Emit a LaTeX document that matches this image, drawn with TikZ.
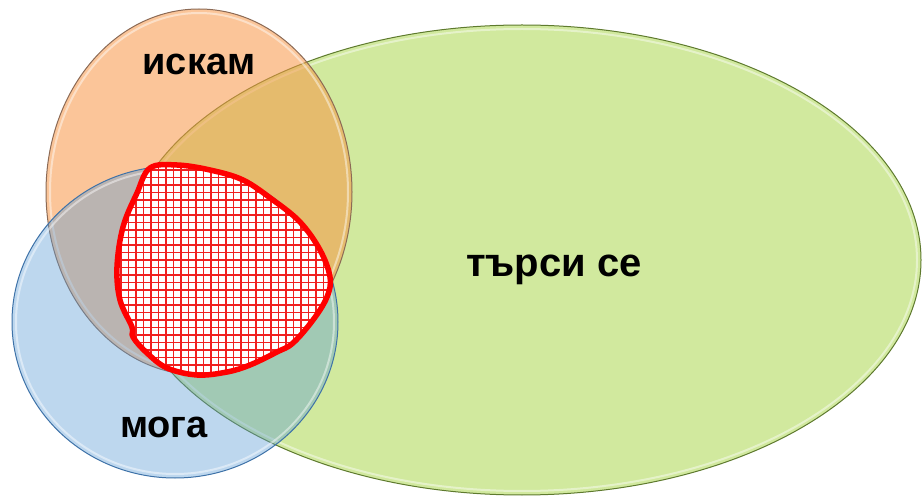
\documentclass[tikz,border=0pt]{standalone}
\usepackage{fontspec}
\setmainfont{Liberation Sans}
\usetikzlibrary{shapes.geometric}
\definecolor{greenfill}{HTML}{D1E99E}
\definecolor{greenline}{HTML}{5E7A2E}
\definecolor{orangebase}{HTML}{F79646}
\definecolor{orangeline}{HTML}{8C6A55}
\definecolor{bluebase}{HTML}{5B9BD5}
\definecolor{blueline}{HTML}{3E72A8}
\definecolor{gridred}{HTML}{F02020}
\begin{document}
\begin{tikzpicture}[x=1pt,y=-1pt,
  venn/.style={ellipse, inner sep=0pt, line width=1pt},
  gloss/.style={ellipse, inner sep=0pt, draw=white, draw opacity=0.45, line width=2pt, fill=none},
  lbl/.style={font=\fontsize{38}{40}\selectfont\bfseries, inner sep=0pt, anchor=base},
  blobline/.style={draw=red, line width=5.5pt, line join=round},
  hatch/.style={draw=gridred, line width=1.8pt}]
\useasboundingbox (0,0) rectangle (922,497);
% ellipses
\node[venn, draw=greenline, fill=greenfill, minimum width=798pt, minimum height=470pt] (tarsi) at (522,260) {};
\node[gloss, minimum width=790pt, minimum height=462pt] (tarsigl) at (522,260) {};
\node[venn, draw=orangeline, fill=orangebase, fill opacity=0.55, minimum width=306pt, minimum height=366pt] (iskam) at (199,192) {};
\node[gloss, minimum width=298pt, minimum height=358pt] (iskamgl) at (199,192) {};
\node[venn, draw=blueline, fill=bluebase, fill opacity=0.4, minimum width=326pt, minimum height=312pt] (moga) at (175,322) {};
\node[gloss, minimum width=318pt, minimum height=304pt] (mogagl) at (175,322) {};
% hatched region
\begin{scope}
\clip plot[smooth cycle, tension=0.6] coordinates {(150,168) (177,165) (210,170) (243,180) (273,200) (300,222) (320,250) (330,277) (327,297) (313,320) (293,343) (277,352) (250,365) (227,372) (197,375) (167,368) (147,353) (133,337) (132,327) (120,300) (117,267) (123,227) (137,193)};
\fill[white] (100,150) rectangle (345,390);
\foreach \i in {0,...,33} {
  \draw[hatch] (106+7.5*\i,150) -- (106+7.5*\i,390);
  \draw[hatch] (100,155+7.5*\i) -- (345,155+7.5*\i);
}
\end{scope}
\draw[blobline] plot[smooth cycle, tension=0.6] coordinates {(150,168) (177,165) (210,170) (243,180) (273,200) (300,222) (320,250) (330,277) (327,297) (313,320) (293,343) (277,352) (250,365) (227,372) (197,375) (167,368) (147,353) (133,337) (132,327) (120,300) (117,267) (123,227) (137,193)};
% labels
\node[lbl] (t1) at (199,75) {искам};
\node[lbl, font=\fontsize{40}{42}\selectfont\bfseries] (t2) at (554,277) {търси се};
\node[lbl] (t3) at (164,437) {мога};
\end{tikzpicture}
\end{document}
